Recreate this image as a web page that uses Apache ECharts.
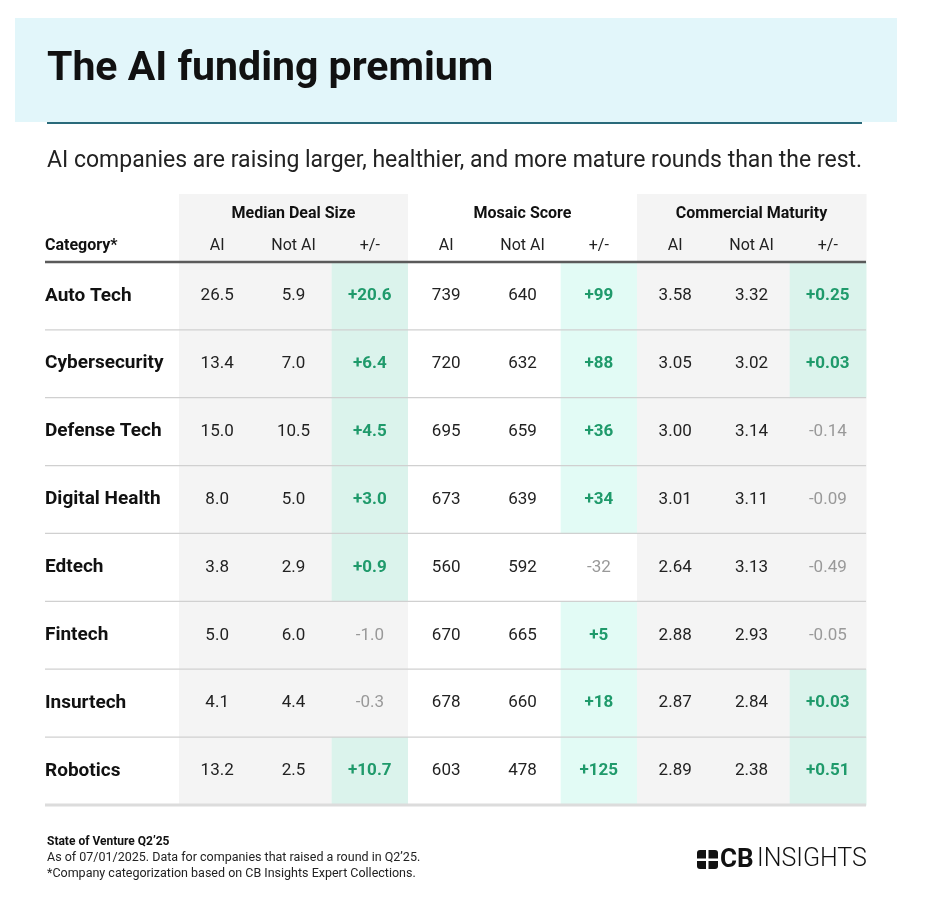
<!DOCTYPE html>
<html><head><meta charset="utf-8">
<script src="https://cdn.jsdelivr.net/npm/echarts@6/dist/echarts.min.js"></script>
<style>html,body{margin:0;padding:0;background:#fff}#c{width:936px;height:900px}</style>
</head><body><div id="c"></div>
<script>
const categories = ['Auto Tech','Cybersecurity','Defense Tech','Digital Health','Edtech','Fintech','Insurtech','Robotics'];
const groups = ['Median Deal Size','Mosaic Score','Commercial Maturity'];
const subHeaders = ['AI','Not AI','+/-'];
const mdsAI = [26.5,13.4,15.0,8.0,3.8,5.0,4.1,13.2];
const mdsNot = [5.9,7.0,10.5,5.0,2.9,6.0,4.4,2.5];
const mdsDiff = [20.6,6.4,4.5,3.0,0.9,-1.0,-0.3,10.7];
const msAI = [739,720,695,673,560,670,678,603];
const msNot = [640,632,659,639,592,665,660,478];
const msDiff = [99,88,36,34,-32,5,18,125];
const cmAI = [3.58,3.05,3.00,3.01,2.64,2.88,2.87,2.89];
const cmNot = [3.32,3.02,3.14,3.11,3.13,2.93,2.84,2.38];
const cmDiff = [0.25,0.03,-0.14,-0.09,-0.49,-0.05,0.03,0.51];

const cols = [[mdsAI,1],[mdsNot,1],[mdsDiff,1],[msAI,0],[msNot,0],[msDiff,0],[cmAI,2],[cmNot,2],[cmDiff,2]];
const colNames = ['c0','c1','c2','c3','c4','c5','c6','c7','c8'];
const rowNames = ['H'].concat(categories);
const cellData = [];
for (let c = 0; c < 9; c++) {
  cellData.push([c, 0, 0, 0, 1]);
  for (let r = 0; r < categories.length; r++) {
    cellData.push([c, r + 1, cols[c][0][r], cols[c][1], 0]);
  }
}
const groupData = groups.map((g, i) => [i * 3 + 1, 0, i]);
const font = 'Roboto, "Noto Sans", sans-serif';
function renderCell(params, api) {
  const c = api.value(0), r = api.value(1), v = api.value(2), dec = api.value(3), hdr = api.value(4);
  const ctr = api.coord([c, r]);
  const sz = api.size([1, 1]);
  const x0 = ctr[0] - sz[0] / 2, y0 = ctr[1] - sz[1] / 2;
  const isDiff = c % 3 === 2;
  const grayCol = c < 3 || c > 5;
  let fill = grayCol ? '#f4f4f4' : '#ffffff';
  if (!hdr && isDiff && v > 0) fill = c === 5 ? '#e2fbf5' : '#dbf3ec';
  const children = [{type: 'rect', shape: {x: x0, y: y0, width: sz[0] + 0.5, height: sz[1] + 0.5}, style: {fill: fill}}];
  if (hdr) {
    children.push({type: 'text', style: {x: ctr[0], y: y0 + 52, text: subHeaders[c % 3], fill: '#222', font: '16px ' + font, align: 'center', verticalAlign: 'middle'}});
  } else {
    let txt = v.toFixed(dec), col = '#222', w = 'normal';
    if (isDiff) {
      if (v > 0) { txt = '+' + txt; col = '#1f9a6b'; w = 'bold'; } else { col = '#999'; }
    }
    children.push({type: 'text', style: {x: ctr[0], y: ctr[1], text: txt, fill: col, font: w + ' 17px ' + font, align: 'center', verticalAlign: 'middle'}});
  }
  return {type: 'group', children: children};
}
function renderGroup(params, api) {
  const ctr = api.coord([api.value(0), api.value(1)]);
  const sz = api.size([1, 1]);
  return {type: 'text', style: {x: ctr[0], y: ctr[1] - sz[1] / 2 + 20, text: groups[api.value(2)], fill: '#111', font: 'bold 16px ' + font, align: 'center', verticalAlign: 'middle'}};
}
function renderLines(params, api) {
  const r = api.value(0);
  const ctr = api.coord([0, r]);
  const end = api.coord([8, r]);
  const sz = api.size([1, 1]);
  const y = ctr[1] + sz[1] / 2;
  const xl = params.coordSys.x - 134, xr = end[0] + sz[0] / 2;
  let stroke = '#d0d0d0', lw = 1.2;
  if (r === 0) { stroke = '#5a5a5a'; lw = 2.5; }
  if (r === categories.length) { stroke = '#dcdcdc'; lw = 3; }
  return {type: 'line', shape: {x1: xl, y1: y, x2: xr, y2: y}, style: {stroke: stroke, lineWidth: lw}};
}
const chart = echarts.init(document.getElementById('c'));
chart.setOption({
  animation: false,
  grid: {left: 179, right: 70, top: 194, bottom: 95},
  xAxis: {type: 'category', data: colNames, show: false},
  yAxis: {type: 'category', data: rowNames, inverse: true, axisLine: {show: false}, axisTick: {show: false},
    axisLabel: {align: 'left', margin: 134, color: '#111', fontFamily: font, fontWeight: 'bold', fontSize: 19,
      formatter: v => v === 'H' ? '' : v}},
  series: [
    {type: 'custom', data: cellData, renderItem: renderCell, z: 1},
    {type: 'custom', data: groupData, renderItem: renderGroup, z: 4},
    {type: 'custom', data: rowNames.map((n, i) => [i]), renderItem: renderLines, z: 3,
      encode: {y: 0}}
  ],
  graphic: [
    {type: 'rect', shape: {x: 15, y: 18, width: 882, height: 104}, style: {fill: '#e2f6fa'}},
    {type: 'text', style: {x: 47, y: 70, text: 'The AI funding premium', font: 'bold 41px ' + font, fill: '#111', verticalAlign: 'middle'}},
    {type: 'rect', shape: {x: 47, y: 122, width: 815, height: 2}, style: {fill: '#2a6a7a'}},
    {type: 'text', style: {x: 47, y: 161, text: 'AI companies are raising larger, healthier, and more mature rounds than the rest.', font: '23px ' + font, fill: '#222', verticalAlign: 'middle'}},
    {type: 'text', style: {x: 45, y: 246, text: 'Category*', font: 'bold 16px ' + font, fill: '#111', verticalAlign: 'middle'}},
    {type: 'text', style: {x: 47, y: 842, text: 'State of Venture Q2\u201925', font: 'bold 12px ' + font, fill: '#111', verticalAlign: 'middle'}},
    {type: 'text', style: {x: 47, y: 858, text: 'As of 07/01/2025. Data for companies that raised a round in Q2\u201925.', font: '12.5px ' + font, fill: '#222', verticalAlign: 'middle'}},
    {type: 'text', style: {x: 47, y: 874, text: '*Company categorization based on CB Insights Expert Collections.', font: '12.5px ' + font, fill: '#222', verticalAlign: 'middle'}},
    {type: 'rect', shape: {x: 697, y: 850, width: 21, height: 19, r: 3}, style: {fill: '#111'}},
    {type: 'rect', shape: {x: 706, y: 850, width: 2.5, height: 19}, style: {fill: '#fff'}},
    {type: 'rect', shape: {x: 697, y: 858.5, width: 21, height: 2.5}, style: {fill: '#fff'}},
    {type: 'text', style: {x: 720, y: 860, text: 'CB', font: 'bold 26px ' + font, fill: '#111', verticalAlign: 'middle'}},
    {type: 'text', style: {x: 757, y: 860, text: 'INSIGHTS', font: '300 25px ' + font, fill: '#111', verticalAlign: 'middle'}}
  ]
});
</script></body></html>
